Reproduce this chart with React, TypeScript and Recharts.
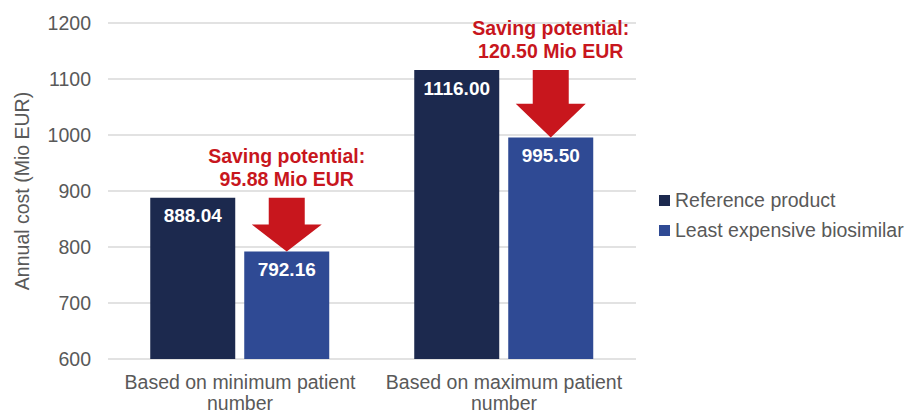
import React from "react";
import { BarChart, Bar, XAxis, YAxis, CartesianGrid, Legend, LabelList } from "recharts";

const categories = ["Based on minimum patient number", "Based on maximum patient number"];
const categoryLines = [
  ["Based on minimum patient", "number"],
  ["Based on maximum patient", "number"],
];
const referenceValues = [888.04, 1116.0];
const biosimilarValues = [792.16, 995.5];
const yTicks = [600, 700, 800, 900, 1000, 1100, 1200];

const Y_MIN = 600;
const REF_COLOR = "#1c294e";
const BIO_COLOR = "#2f4a94";
const RED = "#c8161d";
const GREY = "#595959";
const FONT = "'Liberation Sans', Arial, sans-serif";
const FS = 19.5;

const data = categories.map((name, i) => ({
  name,
  reference: referenceValues[i],
  biosimilar: biosimilarValues[i],
}));

const CategoryTick = ({ x, y, index }: any) => {
  const lines = categoryLines[index] ?? [];
  return (
    <g>
      {lines.map((line, i) => (
        <text
          key={i}
          x={x}
          y={y + 15 + i * 21}
          textAnchor="middle"
          dominantBaseline="central"
          fill={GREY}
          fontSize={FS}
          fontFamily={FONT}
        >
          {line}
        </text>
      ))}
    </g>
  );
};

// arrow + saving text, drawn from the biosimilar bar geometry
const SavingArrow = (props: any) => {
  const { x, y, width, height, value, index } = props;
  if (x == null || !value) return null;
  const ref = referenceValues[index];
  const pxPerUnit = height / (value - Y_MIN);
  const yTop = y + height - (ref - Y_MIN) * pxPerUnit;
  const cx = x + width / 2;
  const total = y - yTop;
  const yHead = yTop + total / 2;
  const shaft = 18;
  const head = 35;
  const path = `M${cx - shaft},${yTop} L${cx + shaft},${yTop} L${cx + shaft},${yHead} L${cx + head},${yHead} L${cx},${y} L${cx - head},${yHead} L${cx - shaft},${yHead} Z`;
  const saving = (ref - value).toFixed(2);
  return (
    <g>
      <path d={path} fill={RED} />
      <text x={cx} y={yTop - 42} textAnchor="middle" dominantBaseline="central" fill={RED} fontSize={FS} fontWeight="bold" fontFamily={FONT}>
        Saving potential:
      </text>
      <text x={cx} y={yTop - 19} textAnchor="middle" dominantBaseline="central" fill={RED} fontSize={FS} fontWeight="bold" fontFamily={FONT}>
        {saving} Mio EUR
      </text>
    </g>
  );
};

const LegendContent = () => (
  <div style={{ fontFamily: FONT, fontSize: FS, color: GREY }}>
    {[
      { label: "Reference product", color: REF_COLOR },
      { label: "Least expensive biosimilar", color: BIO_COLOR },
    ].map((item) => (
      <div key={item.label} style={{ display: "flex", alignItems: "center", height: 30, whiteSpace: "nowrap" }}>
        <span style={{ display: "inline-block", width: 11, height: 11, background: item.color, marginRight: 5 }} />
        {item.label}
      </div>
    ))}
  </div>
);

export default function App() {
  return (
    <div style={{ position: "absolute", left: 0, top: 0, width: 907, height: 412, background: "#fff" }}>
      <BarChart
        width={907}
        height={412}
        data={data}
        margin={{ top: 23, right: 271, left: 48, bottom: 0 }}
        barCategoryGap="16%"
        barGap={9}
      >
        <CartesianGrid vertical={false} stroke="#d9d9d9" strokeWidth={1.5} />
        <XAxis dataKey="name" axisLine={false} tickLine={false} height={53} tick={<CategoryTick />} interval={0} />
        <YAxis
          domain={[600, 1200]}
          ticks={yTicks}
          width={60}
          axisLine={false}
          tickLine={false}
          tickSize={0}
          tickMargin={17}
          tick={{ fill: GREY, fontSize: FS, fontFamily: FONT }}
          label={{
            value: "Annual cost (Mio EUR)",
            angle: -90,
            position: "insideLeft",
            offset: 0,
            dx: -26,
            style: { fill: GREY, fontSize: FS, fontFamily: FONT, textAnchor: "middle" },
          }}
        />
        <Legend
          layout="vertical"
          align="center"
          verticalAlign="middle"
          content={<LegendContent />}
          wrapperStyle={{ left: 659, top: 185, width: 250 }}
        />
        <Bar dataKey="reference" name="Reference product" fill={REF_COLOR} isAnimationActive={false}>
          <LabelList
            dataKey="reference"
            position="insideTop"
            offset={11}
            formatter={(v: any) => Number(v).toFixed(2)}
            style={{ fill: "#fff", fontSize: 19, fontWeight: "bold", fontFamily: FONT }}
          />
        </Bar>
        <Bar dataKey="biosimilar" name="Least expensive biosimilar" fill={BIO_COLOR} isAnimationActive={false}>
          <LabelList
            dataKey="biosimilar"
            position="insideTop"
            offset={11}
            formatter={(v: any) => Number(v).toFixed(2)}
            style={{ fill: "#fff", fontSize: 19, fontWeight: "bold", fontFamily: FONT }}
          />
          <LabelList dataKey="biosimilar" content={<SavingArrow />} />
        </Bar>
      </BarChart>
    </div>
  );
}
